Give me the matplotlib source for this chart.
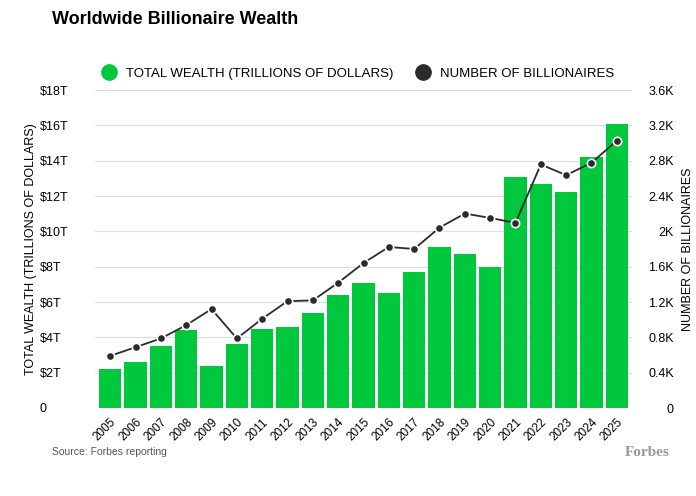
import numpy as np
import matplotlib
matplotlib.use("Agg")
import matplotlib.pyplot as plt
from matplotlib.lines import Line2D

years = [str(y) for y in range(2005, 2026)]
wealth = [2.2, 2.6, 3.5, 4.4, 2.4, 3.6, 4.5, 4.6, 5.4, 6.4, 7.1, 6.5, 7.7, 9.1,
          8.7, 8.0, 13.1, 12.7, 12.2, 14.2, 16.1]
billionaires = [590, 688, 787, 938, 1120, 787, 1010, 1210, 1218, 1418, 1641, 1823,
                1800, 2042, 2201, 2152, 2095, 2757, 2636, 2776, 3026]
left_ticks = ["0", "$2T", "$4T", "$6T", "$8T", "$10T", "$12T", "$14T", "$16T", "$18T"]
right_ticks = ["0", "0.4K", "0.8K", "1.2K", "1.6K", "2K", "2.4K", "2.8K", "3.2K", "3.6K"]

GREEN = "#00c83c"
DARK = "#2b2b2b"
plt.rcParams["font.family"] = "Liberation Sans"

fig = plt.figure(figsize=(6.96, 4.96), dpi=100)
ax = fig.add_axes([95 / 696, 1 - 408 / 496, 537 / 696, 318 / 496])
x = np.arange(len(years))
ax.bar(x, wealth, width=0.88, color=GREEN, zorder=2)
ax.set_ylim(0, 18)
ax.set_xlim(-0.6, len(years) - 0.4)
ax.set_yticks(range(0, 19, 2))
ax.set_yticklabels(left_ticks, fontsize=9, ha="left")
ax.tick_params(axis="y", length=0, pad=40)
ax.set_xticks(x)
ax.set_xticklabels(years, rotation=45, ha="right", rotation_mode="anchor", fontsize=8.5)
ax.tick_params(axis="x", length=0, pad=6)
ax.grid(axis="y", color="#dddddd", lw=0.8, zorder=0)
for s in ax.spines.values():
    s.set_visible(False)
ax.set_ylabel("TOTAL WEALTH (TRILLIONS OF DOLLARS)", fontsize=9, labelpad=2)

ax2 = ax.twinx()
ax2.plot(x, billionaires, color=DARK, lw=1.3, marker="o", ms=6,
         mfc=DARK, mec="white", mew=1.2, zorder=3)
ax2.set_ylim(0, 3600)
ax2.set_yticks(range(0, 3601, 400))
ax2.set_yticklabels(right_ticks, fontsize=9, ha="right")
ax2.tick_params(axis="y", length=0, pad=30)
for s in ax2.spines.values():
    s.set_visible(False)
ax2.set_ylabel("NUMBER OF BILLIONAIRES", fontsize=9, labelpad=6)

fig.text(52 / 696, 1 - 20 / 496, "Worldwide Billionaire Wealth", fontsize=13,
         fontweight="bold", va="center")
handles = [Line2D([], [], ls="", marker="o", ms=11, color=GREEN),
           Line2D([], [], ls="", marker="o", ms=11, color=DARK)]
fig.legend(handles, ["TOTAL WEALTH (TRILLIONS OF DOLLARS)", "NUMBER OF BILLIONAIRES"],
           loc="center", bbox_to_anchor=(355 / 696, 1 - 74 / 496), ncol=2,
           frameon=False, fontsize=9.5, handletextpad=0.3, columnspacing=1.2)
fig.text(52 / 696, 1 - 452 / 496, "Source: Forbes reporting", fontsize=7.5,
         color="#555555", va="center")
fig.text(670 / 696, 1 - 452 / 496, "Forbes", fontsize=11, family="Liberation Serif",
         fontweight="bold", color="#999999", ha="right", va="center")
fig.savefig("out.png", dpi=100)
